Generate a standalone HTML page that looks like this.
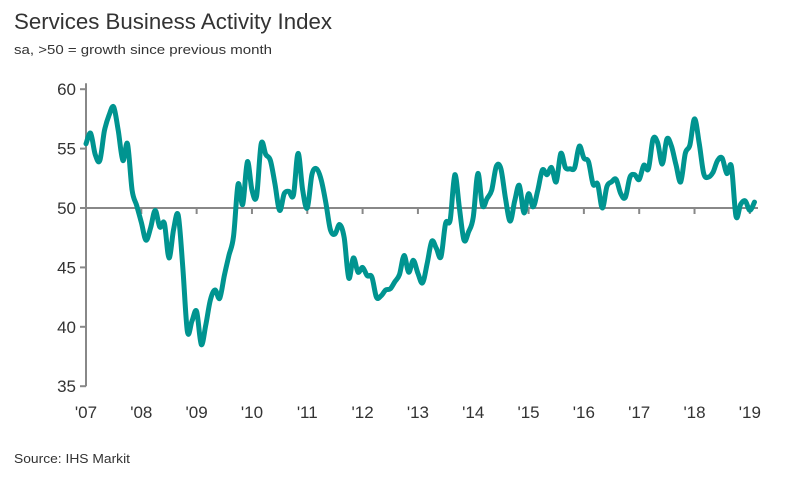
<!DOCTYPE html>
<html><head><meta charset="utf-8"><style>
body{margin:0;background:#fff;font-family:"Liberation Sans",sans-serif;}
svg text{font-family:"Liberation Sans",sans-serif;}
</style></head><body>
<svg id="chart" width="788" height="472" viewBox="0 0 788 472" xmlns="http://www.w3.org/2000/svg">
<text x="14" y="29" font-size="22" fill="#333" textLength="318" lengthAdjust="spacingAndGlyphs">Services Business Activity Index</text>
<text x="14" y="54" font-size="13" fill="#333" textLength="258" lengthAdjust="spacingAndGlyphs">sa, &gt;50 = growth since previous month</text>
<text x="14" y="463" font-size="13" fill="#333" textLength="116" lengthAdjust="spacingAndGlyphs">Source: IHS Markit</text>
<g id="axes"></g>
<path id="series" fill="none" stroke="#009490" stroke-width="5" stroke-linejoin="round" stroke-linecap="round"/>
</svg>
<script>
const values=[55.4,56.3,54.5,54.0,56.5,57.8,58.5,56.5,54.0,55.4,51.5,50.2,
48.8,47.3,48.3,49.8,48.4,48.7,45.8,48.2,49.4,45.0,39.6,40.5,
41.3,38.5,40.2,42.3,43.1,42.4,44.3,46.0,47.6,52.0,50.3,53.9,
51.5,51.0,55.4,54.5,54.0,52.0,49.8,51.2,51.4,51.1,54.6,51.5,
50.0,52.8,53.3,52.4,50.5,48.2,47.8,48.6,47.5,44.1,45.8,44.6,
45.0,44.3,44.2,42.5,42.6,43.1,43.2,43.8,44.4,46.0,44.6,45.6,
44.5,43.7,45.3,47.2,46.6,45.9,48.7,49.0,52.8,50.0,47.3,48.0,
49.2,52.9,50.2,50.8,51.5,53.5,53.3,50.8,48.9,50.6,51.9,49.6,
51.2,50.1,51.5,53.2,52.8,53.4,52.2,54.6,53.4,53.3,53.4,55.2,
54.2,53.9,52.0,52.0,50.0,51.8,52.2,52.4,51.2,50.9,52.6,52.8,
52.4,53.6,53.3,55.8,55.5,53.7,55.8,55.2,53.6,52.2,54.6,55.3,
57.5,55.5,52.9,52.6,53.0,54.0,54.2,52.9,53.5,49.3,50.3,50.6,
49.8,50.5];
const yTicks=[60,55,50,45,40,35];
const xTickLabels=["'07","'08","'09","'10","'11","'12","'13","'14","'15","'16","'17","'18","'19"];
const X0=86,MW=4.61;
function xm(i){return X0+i*MW;}
function yv(v){return 208-(v-50)*11.88;}
const NS="http://www.w3.org/2000/svg";
const ax=document.getElementById('axes');
function mk(t,a){const e=document.createElementNS(NS,t);for(const k in a)e.setAttribute(k,a[k]);return e;}
const yl=mk('line',{x1:X0,y1:yv(60.5),x2:X0,y2:yv(35),stroke:'#888','stroke-width':2});


ax.appendChild(yl);
yTicks.forEach(v=>{
 const t=mk('line',{x1:X0-6,y1:yv(v),x2:X0,y2:yv(v),stroke:'#888','stroke-width':2});
 
 
 ax.appendChild(t);
 const l=mk('text',{x:X0-10,y:yv(v)+6,'text-anchor':'end','font-size':17,fill:'#333'});
 l.textContent=v;
 
 
 ax.appendChild(l);
});
const xl=mk('line',{x1:X0,y1:yv(50),x2:758,y2:yv(50),stroke:'#888','stroke-width':2});


ax.appendChild(xl);
xTickLabels.forEach((s,k)=>{
 const x=xm(k*12);
 if(k>0){const t=mk('line',{x1:x,y1:yv(50),x2:x,y2:yv(50)+6,stroke:'#888','stroke-width':2});
 
 
 ax.appendChild(t);}
 const l=mk('text',{x:x,y:418,'text-anchor':'middle','font-size':17,fill:'#333'});
 l.textContent=s;
 
 
 ax.appendChild(l);
});
const pts=values.map((v,i)=>[xm(i),yv(v)]);
let d='M'+pts[0][0].toFixed(1)+','+pts[0][1].toFixed(1);
for(let i=0;i<pts.length-1;i++){
 const p0=pts[Math.max(0,i-1)],p1=pts[i],p2=pts[i+1],p3=pts[Math.min(pts.length-1,i+2)];
 const c1=[p1[0]+(p2[0]-p0[0])/6,p1[1]+(p2[1]-p0[1])/6];
 const c2=[p2[0]-(p3[0]-p1[0])/6,p2[1]-(p3[1]-p1[1])/6];
 d+='C'+c1[0].toFixed(1)+','+c1[1].toFixed(1)+' '+c2[0].toFixed(1)+','+c2[1].toFixed(1)+' '+p2[0].toFixed(1)+','+p2[1].toFixed(1);
}
document.getElementById('series').setAttribute('d',d);
</script>
</body></html>
